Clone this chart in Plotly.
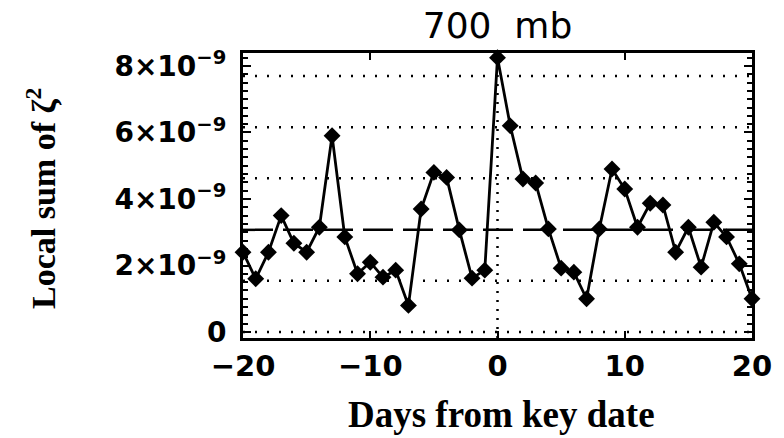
import plotly.graph_objects as go

# Days relative to the key date
days = list(range(-20, 21))

# Local sum of zeta^2 at 700 mb, in units of 1e-9
local_sum = [2.4, 1.6, 2.4, 3.5, 2.67, 2.4, 3.15, 5.9, 2.86, 1.75,
             2.1, 1.65, 1.86, 0.8, 3.7, 4.8, 4.65, 3.07, 1.62, 1.86,
             8.25, 6.2, 4.6, 4.48, 3.1, 1.92, 1.8, 1.0, 3.1, 4.9,
             4.3, 3.15, 3.87, 3.82, 2.4, 3.15, 1.95, 3.3, 2.86, 2.05, 1.0]

# Axis tick labels
x_tick_vals = [-20, -10, 0, 10, 20]
x_tick_text = ["\u221220", "\u221210", "0", "10", "20"]
y_tick_vals = [0, 2, 4, 6, 8]
y_tick_text = ["0", "2\u00d710<sup>\u22129</sup>", "4\u00d710<sup>\u22129</sup>",
               "6\u00d710<sup>\u22129</sup>", "8\u00d710<sup>\u22129</sup>"]

# Dotted reference levels
grid_levels = [0, 1.54, 4.62, 6.16, 7.70]

mean_value = sum(local_sum) / len(local_sum)
y_range = [-0.18, 8.39]

fig = go.Figure()

fig.add_trace(go.Scatter(
    x=days, y=local_sum, mode="lines+markers",
    line=dict(color="black", width=2.8),
    marker=dict(symbol="diamond", size=13, color="black"),
    showlegend=False, cliponaxis=False,
))
# empty trace so the right-hand tick axis is laid out
fig.add_trace(go.Scatter(x=[], y=[], yaxis="y2", showlegend=False, hoverinfo="skip"))

shapes = []
for g in grid_levels:
    shapes.append(dict(type="line", xref="paper", x0=0, x1=1, yref="y", y0=g, y1=g,
                       line=dict(color="black", width=2.5, dash="2px,10px"), layer="below"))
shapes.append(dict(type="line", xref="x", x0=0, x1=0, yref="paper", y0=0, y1=1,
                   line=dict(color="black", width=2.5, dash="2px,7px"), layer="below"))
shapes.append(dict(type="line", xref="paper", x0=0, x1=1, yref="y", y0=mean_value, y1=mean_value,
                   line=dict(color="black", width=2.5, dash="30px,10px"), layer="below"))

fig.update_layout(
    width=784, height=438,
    margin=dict(l=243, r=26, t=53, b=100),
    paper_bgcolor="white", plot_bgcolor="white",
    shapes=shapes,
    title=dict(text="700  mb", x=0.5, xref="paper", xanchor="center",
               y=1 - 25 / 438, yref="container", yanchor="middle",
               font=dict(family="DejaVu Sans", size=36, color="black")),
    xaxis=dict(range=[-20, 20], tickvals=x_tick_vals, ticktext=x_tick_text,
               ticks="inside", ticklen=7, tickwidth=2, tickcolor="black",
               showline=True, linewidth=3, linecolor="black", mirror="ticks",
               showgrid=False, zeroline=False,
               tickfont=dict(family="DejaVu Sans", size=29, color="black", weight="bold")),
    yaxis=dict(range=y_range, tickvals=y_tick_vals, ticktext=y_tick_text,
               ticks="inside", ticklen=8, tickwidth=2, tickcolor="black",
               minor=dict(dtick=0.25, tick0=0, ticks="inside", ticklen=5,
                          tickwidth=2, tickcolor="black"),
               showline=True, linewidth=3, linecolor="black", mirror=True,
               showgrid=False, zeroline=False, ticklabelstandoff=8,
               tickfont=dict(family="DejaVu Sans", size=28, color="black", weight="bold")),
    yaxis2=dict(range=y_range, overlaying="y", side="right", showticklabels=False,
                tickvals=y_tick_vals, ticks="inside", ticklen=8, tickwidth=2, tickcolor="black",
                minor=dict(dtick=0.25, tick0=0, ticks="inside", ticklen=5,
                           tickwidth=2, tickcolor="black"),
                showline=False, showgrid=False, zeroline=False),
    annotations=[
        dict(text="<b>Local sum of \u03b6<sup>2</sup></b>", textangle=-90,
             xref="paper", x=(38 - 243) / 515, yref="paper", y=0.489,
             xanchor="center", yanchor="middle", showarrow=False,
             font=dict(family="Liberation Serif", size=34, color="black")),
        dict(text="<b>Days from key date</b>",
             xref="paper", x=(505 - 243) / 515, yref="paper", y=(338 - 414) / 285,
             xanchor="center", yanchor="middle", showarrow=False,
             font=dict(family="Liberation Serif", size=37, color="black")),
    ],
)

fig.write_html("out.html")
